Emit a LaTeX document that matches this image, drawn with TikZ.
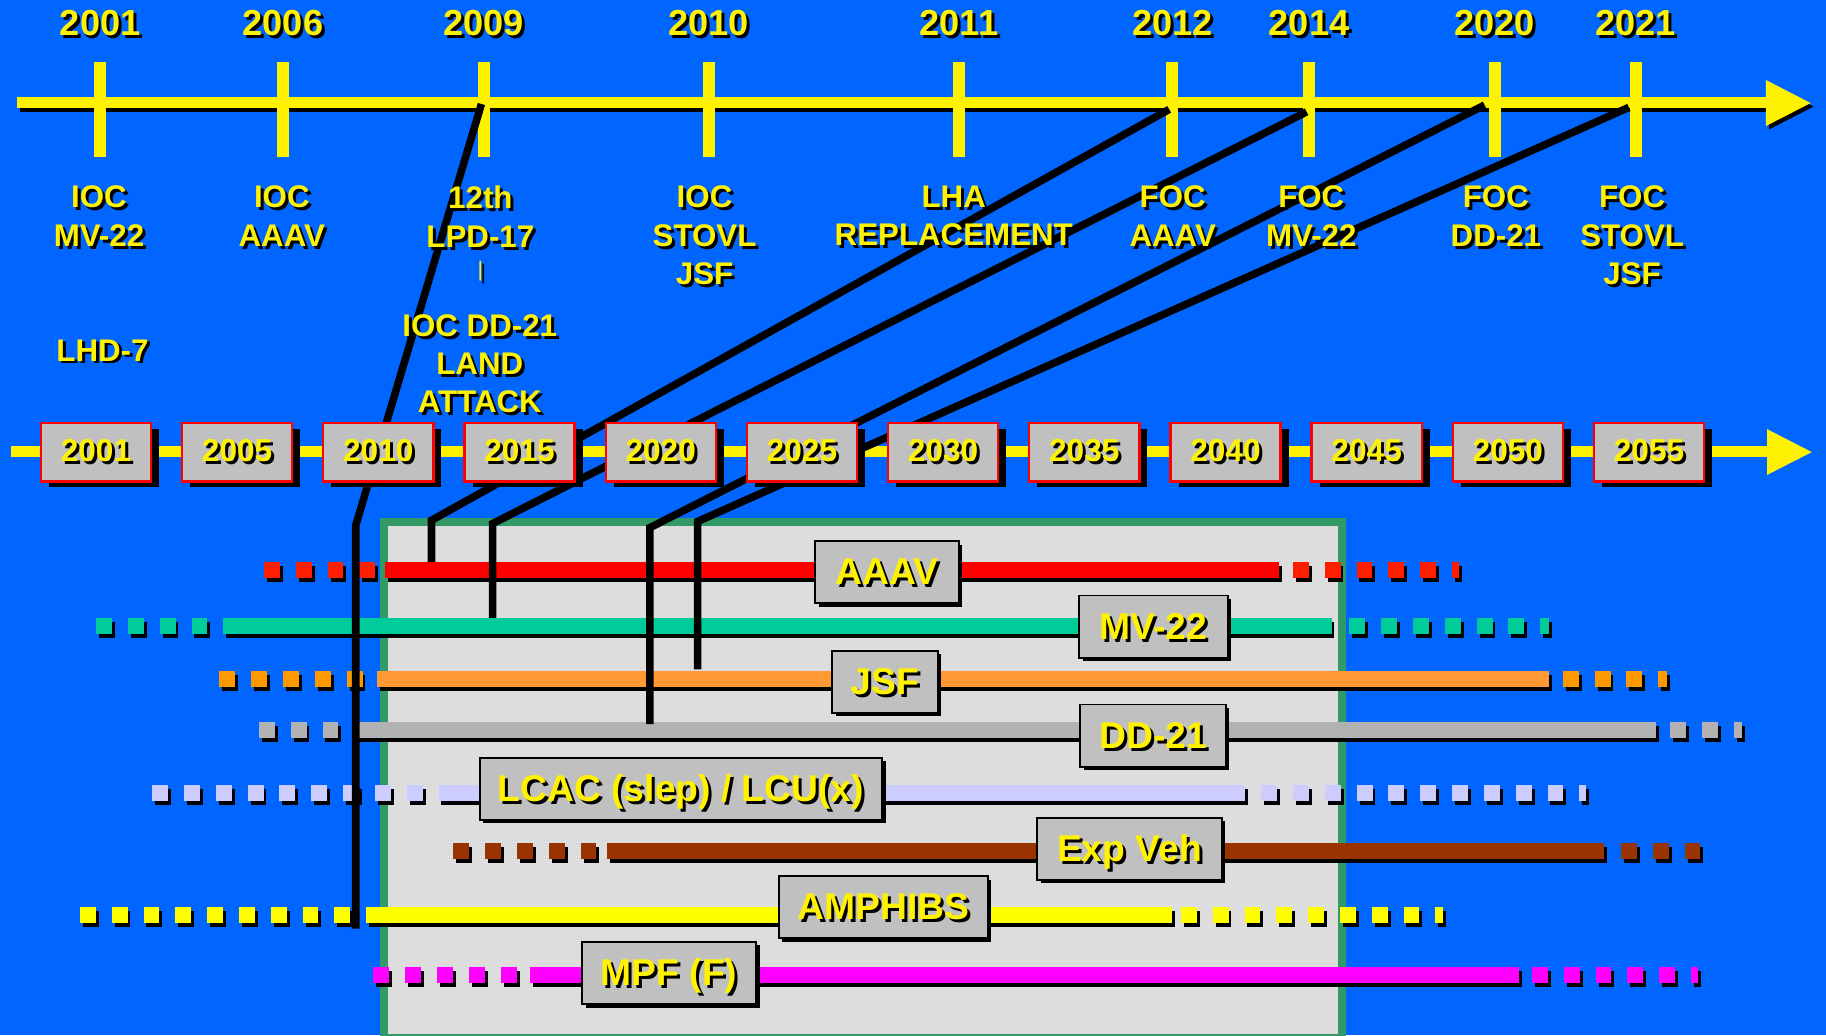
\documentclass[tikz,border=0pt]{standalone}
\usepackage{fontspec}
\setmainfont{Liberation Sans}
\usepackage{xcolor}
\usepackage{tikz}
\usetikzlibrary{shadows}

\definecolor{bgblue}{RGB}{0,102,255}
\definecolor{panelgrey}{RGB}{221,221,221}
\definecolor{panelgreen}{RGB}{51,153,102}
\definecolor{boxgrey}{RGB}{192,192,192}
\definecolor{aaavred}{RGB}{255,0,0}
\definecolor{aaavdot}{RGB}{255,30,0}
\definecolor{mvteal}{RGB}{0,204,153}
\definecolor{jsforange}{RGB}{255,153,51}
\definecolor{jsfdot}{RGB}{255,153,0}
\definecolor{ddgrey}{RGB}{178,178,178}
\definecolor{lcaclav}{RGB}{204,204,255}
\definecolor{expbrown}{RGB}{153,51,0}
\definecolor{amphyellow}{RGB}{255,255,0}
\definecolor{mpfpink}{RGB}{255,0,255}

\newlength{\pxu}
\setlength{\pxu}{0.33133pt}
% yellow text with a black shadow
\newcommand{\shtxt}[1]{\rlap{\kern0.85pt\raisebox{-0.85pt}{\color{black}#1}}#1}

\tikzset{
  yrlbl/.style={text=yellow, font=\fontsize{10.3}{11}\selectfont\bfseries, inner sep=0, anchor=north},
  milelbl/.style={text=yellow, font=\fontsize{8.9}{10.9}\selectfont\bfseries, align=center, inner sep=0, anchor=north},
  yeartick/.style={fill=yellow, minimum width=10.2\pxu, minimum height=81.5\pxu, inner sep=0},
  yrbox/.style={fill=boxgrey, draw=red, line width=2\pxu, minimum width=94.5\pxu, minimum height=50\pxu,
    inner sep=0, text=yellow, font=\fontsize{9}{10}\selectfont\bfseries,
    drop shadow={shadow xshift=2.3pt, shadow yshift=-1.6pt, opacity=1, fill=black}},
  progbox/.style={fill=boxgrey, draw=black, line width=1.6\pxu, minimum height=53.4\pxu,
    inner sep=0, text=yellow, font=\fontsize{10.6}{12}\selectfont\bfseries,
    text height=0.72em, text depth=0pt,
    drop shadow={shadow xshift=1pt, shadow yshift=-1pt, opacity=1, fill=black}},
  solidbar/.style={line width=13.7\pxu},
  dotbar/.style={line width=13.7\pxu, dash pattern=on 4.51pt off 4.54pt},
  link/.style={line width=6.5\pxu, black},
}

\begin{document}
\begin{tikzpicture}[x=0.011645cm, y=-0.011645cm]
  \useasboundingbox (0,0) rectangle (1568,888.8);
  \fill[bgblue] (0,0) rectangle (1568,888.8);
  % panel
  \draw[panelgreen, fill=panelgrey, line width=7\pxu] (329.5,448.3) rectangle (1152.6,891);

  % top time line
  \draw[line width=9.4\pxu, black] (17.1,91.3) -- (1519,91.3);
  \fill[black] (1518.9,71.7) -- (1557.3,91.5) -- (1518.9,111.2) -- cycle;
  \draw[line width=9.4\pxu, yellow] (14.6,88.3) -- (1517,88.3);
  \fill[yellow] (1516.4,68.7) -- (1554.8,88.5) -- (1516.4,108.2) -- cycle;
  \foreach \x/\yr in {86/2001, 243/2006, 415.4/2009, 608.5/2010, 823.4/2011,
                      1006.7/2012, 1124.1/2014, 1283.5/2020, 1404.5/2021}{
    \node[yeartick] (t\yr) at (\x,93.75) {};
    \node[yrlbl] (y\yr) at (\x,8.2) {\shtxt{\yr}};
  }

  % lower time line
  \draw[line width=9.4\pxu, yellow] (9.5,387.5) -- (1518,387.5);
  \fill[yellow] (1517.4,368.5) -- (1555.8,388.2) -- (1517.4,407.8) -- cycle;

  % programme bars: y / colour / dot colour / dots / solid from / solid to / dots / end
  \foreach \ry/\rc/\rd/\xa/\xb/\xc/\xd/\xe in {
      489.6/aaavred/aaavdot/226.7/331/1098.3/1110.2/1252.7,
      537.5/mvteal/mvteal/82.5/192.4/1143.4/1158.7/1329.8,
      582.7/jsforange/jsfdot/188.4/324.1/1330.1/1342/1431.6,
      627/ddgrey/ddgrey/222.3/303.8/1421.7/1434.3/1496,
      681/lcaclav/lcaclav/130.7/377.8/1068.8/1083/1362,
      731/expbrown/expbrown/389.3/521.3/1377.3/1391.9/1459.8,
      785.6/amphyellow/amphyellow/68.6/315.6/1006.7/1014/1239.1,
      837.4/mpfpink/mpfpink/320.7/455.5/1304.6/1315.5/1458}{
    \begin{scope}[shift={(2.5,3.5)}]
      \draw[dotbar, black] (\xa,\ry) -- (\xb,\ry);
      \draw[solidbar, black] (\xb,\ry) -- (\xc,\ry);
      \draw[dotbar, black] (\xd,\ry) -- (\xe,\ry);
    \end{scope}
    \draw[dotbar, \rd] (\xa,\ry) -- (\xb,\ry);
    \draw[solidbar, \rc] (\xb,\ry) -- (\xc,\ry);
    \draw[dotbar, \rd] (\xd,\ry) -- (\xe,\ry);
  }

  % links from the milestones down to the bars
  \coordinate (s1) at (413.4,89.3);  \coordinate (k1) at (305.5,451);   \coordinate (e1) at (305.5,797.4);
  \coordinate (s2) at (1004,93.9);   \coordinate (k2) at (370.5,446.8); \coordinate (e2) at (370.5,482.6);
  \coordinate (s3) at (1122,96);     \coordinate (k3) at (423,449.6);   \coordinate (e3) at (423,530.6);
  \coordinate (s4) at (1274.8,90.2); \coordinate (k4) at (558,453.1);   \coordinate (e4) at (558,621.7);
  \coordinate (s5) at (1398.7,92.2); \coordinate (k5) at (599,447.8);   \coordinate (e5) at (599,574.8);
  \draw[link] (s1) -- (k1) -- (e1);
  \draw[link] (s2) -- (k2) -- (e2);
  \draw[link] (s3) -- (k3) -- (e3);
  \draw[link] (s4) -- (k4) -- (e4);
  \draw[link] (s5) -- (k5) -- (e5);

  % year boxes
  \foreach \lab [count=\k from 0] in {2001,2005,2010,2015,2020,2025,2030,2035,2040,2045,2050,2055}{
    \node[yrbox] (b\lab) at ({82.4+121.24*\k},388.5) {\shtxt{\lab}};
  }

  % milestones
  \node[milelbl] (m2001) at (85,159.2) {\shtxt{IOC}\\\shtxt{MV-22}};
  \node[milelbl] (m2006) at (242,159.2) {\shtxt{IOC}\\\shtxt{AAAV}};
  \node[milelbl] (m2009) at (412.5,159.2) {\shtxt{12th}\\\shtxt{LPD-17}\\
    \raisebox{2.5pt}{\fontsize{6}{6}\selectfont\mdseries\shtxt{|}}};
  \node[milelbl] (m2010) at (605,159.2) {\shtxt{IOC}\\\shtxt{STOVL}\\\shtxt{JSF}};
  \node[milelbl] (m2011) at (819,159.2) {\shtxt{LHA}\\\shtxt{REPLACEMENT}};
  \node[milelbl] (m2012) at (1007,159.2) {\shtxt{FOC}\\\shtxt{AAAV}};
  \node[milelbl] (m2014) at (1126,159.2) {\shtxt{FOC}\\\shtxt{MV-22}};
  \node[milelbl] (m2020) at (1284.5,159.2) {\shtxt{FOC}\\\shtxt{DD-21}};
  \node[milelbl] (m2021) at (1401.5,159.2) {\shtxt{FOC}\\\shtxt{STOVL}\\\shtxt{JSF}};
  \node[milelbl] (lhd) at (88,290.9) {\shtxt{LHD-7}};
  \node[milelbl] (ddioc) at (412,269.4) {\shtxt{IOC DD-21}\\\shtxt{LAND}\\\shtxt{ATTACK}};

  % programme labels
  \node[progbox, minimum width=123.4\pxu] (aaav) at (761.6,491.3) {\shtxt{AAAV}};
  \node[progbox, minimum width=127.4\pxu] (mv22) at (990.5,538) {\shtxt{MV-22}};
  \node[progbox, minimum width=90.4\pxu] (jsf) at (760,585.5) {\shtxt{JSF}};
  \node[progbox, minimum width=125\pxu] (dd21) at (990.2,631.7) {\shtxt{DD-21}};
  \node[progbox, minimum width=345.4\pxu] (lcac) at (584.7,677.3) {\shtxt{LCAC (slep) / LCU(x)}};
  \node[progbox, minimum width=158.4\pxu] (expveh) at (970,728.9) {\shtxt{Exp Veh}};
  \node[progbox, minimum width=179.4\pxu] (amphibs) at (758.5,779) {\shtxt{AMPHIBS}};
  \node[progbox, minimum width=149.4\pxu] (mpf) at (574.5,835.4) {\shtxt{MPF (F)}};
\end{tikzpicture}
\end{document}
